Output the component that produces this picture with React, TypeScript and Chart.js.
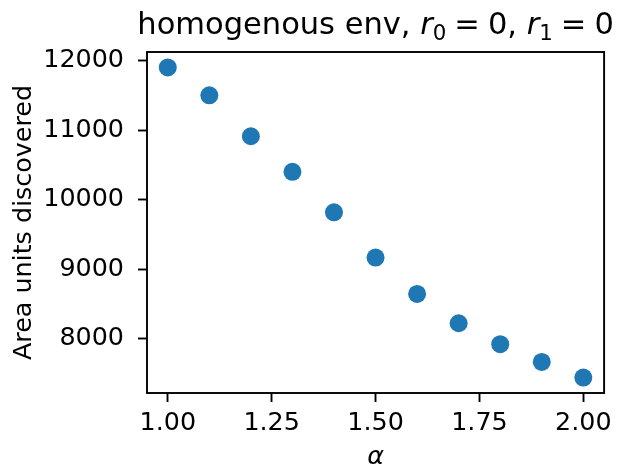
import React, { useEffect, useRef } from "react";
import { Chart, registerables } from "chart.js";

Chart.register(...registerables);

const alphaValues = [1.0, 1.1, 1.2, 1.3, 1.4, 1.5, 1.6, 1.7, 1.8, 1.9, 2.0];
const areaUnits = [11905, 11504, 10914, 10402, 9819, 9166, 8642, 8220, 7919, 7662, 7438];
const xTicks = [1.0, 1.25, 1.5, 1.75, 2.0];
const yTicks = [8000, 9000, 10000, 11000, 12000];

const FONT = "'DejaVu Sans', sans-serif";
const TICK_SIZE = 25.4;
const TITLE_SIZE = 30.5;

const framePlugin = {
  id: "frameAndTitle",
  afterDraw(chart: any) {
    const { ctx, chartArea } = chart;
    const { left, right, top, bottom } = chartArea;
    ctx.save();
    ctx.strokeStyle = "#000";
    ctx.lineWidth = 1.9;
    ctx.strokeRect(left, top, right - left, bottom - top);

    const sub = TITLE_SIZE * 0.7;
    const normal = `${TITLE_SIZE}px ${FONT}`;
    const ital = `italic ${TITLE_SIZE}px ${FONT}`;
    const subF = `${sub}px ${FONT}`;
    const gap = 8;
    const parts: { t: string; f: string; dy: number; pre?: number; post?: number }[] = [
      { t: "homogenous env, ", f: normal, dy: 0 },
      { t: "r", f: ital, dy: 0 },
      { t: "0", f: subF, dy: 6 },
      { t: "=", f: normal, dy: 0, pre: gap, post: gap },
      { t: "0", f: normal, dy: 0 },
      { t: ", ", f: normal, dy: 0 },
      { t: "r", f: ital, dy: 0 },
      { t: "1", f: subF, dy: 6 },
      { t: "=", f: normal, dy: 0, pre: gap, post: gap },
      { t: "0", f: normal, dy: 0 },
    ];
    let total = 0;
    const widths = parts.map((p) => {
      ctx.font = p.f;
      const w = ctx.measureText(p.t).width + (p.pre || 0) + (p.post || 0);
      total += w;
      return w;
    });
    let x = (left + right) / 2 - total / 2;
    const baseY = 33.5;
    ctx.fillStyle = "#000";
    ctx.textBaseline = "alphabetic";
    ctx.textAlign = "left";
    parts.forEach((p, i) => {
      ctx.font = p.f;
      ctx.fillText(p.t, x + (p.pre || 0), baseY + p.dy);
      x += widths[i];
    });
    ctx.restore();
  },
};

export default function App() {
  const ref = useRef<HTMLCanvasElement | null>(null);
  useEffect(() => {
    if (!ref.current) return;
    Chart.defaults.font.family = FONT;
    Chart.defaults.color = "#000";
    const chart = new Chart(ref.current, {
      type: "scatter",
      data: {
        datasets: [
          {
            data: alphaValues.map((a, i) => ({ x: a, y: areaUnits[i] })),
            backgroundColor: "#1f77b4",
            borderWidth: 0,
            pointRadius: 9,
            pointHoverRadius: 9,
          },
        ],
      },
      options: {
        responsive: false,
        animation: false,
        events: [],
        layout: { padding: { left: 0, top: 52, right: 9, bottom: 0 } },
        plugins: { legend: { display: false }, tooltip: { enabled: false }, title: { display: false } },
        scales: {
          x: {
            type: "linear",
            min: 0.95,
            max: 2.05,
            afterFit: (s: any) => {
              s.height = 75;
            },
            afterBuildTicks: (s: any) => {
              s.ticks = xTicks.map((v) => ({ value: v }));
            },
            grid: {
              display: true,
              drawOnChartArea: false,
              drawTicks: true,
              tickLength: 9,
              tickWidth: 1.9,
              tickColor: "#000",
            },
            border: { display: false },
            ticks: {
              autoSkip: false,
              maxRotation: 0,
              minRotation: 0,
              padding: 6,
              color: "#000",
              font: { size: TICK_SIZE, family: FONT },
              callback: (v: any) => Number(v).toFixed(2),
            },
            title: {
              display: true,
              text: "α",
              color: "#000",
              font: { size: TICK_SIZE, family: FONT, style: "italic", lineHeight: 1 },
              padding: { top: 0, bottom: -2 },
            },
          },
          y: {
            type: "linear",
            min: 7215,
            max: 12128,
            afterFit: (s: any) => {
              s.width = 147;
            },
            afterBuildTicks: (s: any) => {
              s.ticks = yTicks.map((v) => ({ value: v }));
            },
            grid: {
              display: true,
              drawOnChartArea: false,
              drawTicks: true,
              tickLength: 9,
              tickWidth: 1.9,
              tickColor: "#000",
            },
            border: { display: false },
            ticks: {
              autoSkip: false,
              padding: 14,
              color: "#000",
              font: { size: TICK_SIZE, family: FONT },
              callback: (v: any) => String(v),
            },
            title: {
              display: true,
              text: "Area units discovered",
              color: "#000",
              font: { size: TICK_SIZE, family: FONT, lineHeight: 1.2 },
              padding: { top: 9, bottom: 0 },
            },
          },
        },
      },
      plugins: [framePlugin],
    });
    return () => chart.destroy();
  }, []);
  return (
    <div style={{ position: "fixed", left: 0, top: 0, width: 618, height: 468, background: "#fff" }}>
      <canvas ref={ref} width={618} height={468} style={{ display: "block", width: 618, height: 468 }} />
    </div>
  );
}
